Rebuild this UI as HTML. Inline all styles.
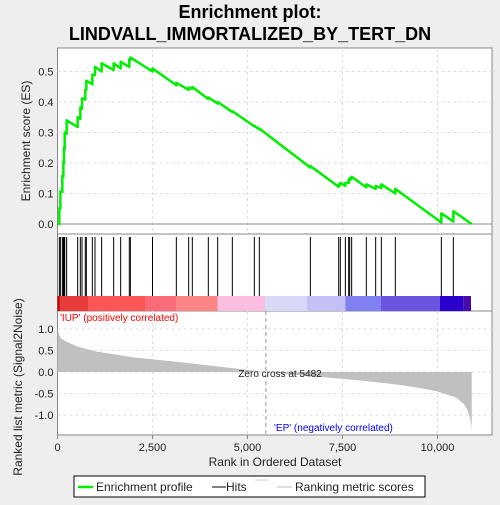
<!DOCTYPE html>
<html><head><meta charset="utf-8"><style>
body{margin:0;background:#eeeeee;width:500px;height:500px;overflow:hidden;font-family:"Liberation Sans",sans-serif}
</style></head><body>
<svg id="c" width="500" height="500" xmlns="http://www.w3.org/2000/svg" font-family="Liberation Sans, sans-serif"></svg>
<script>
const hitRanks=[48,75,127,154,170,190,241,531,601,645,732,759,917,987,1162,1478,1662,1890,1917,2500,3127,3452,3548,3969,4215,4601,5180,5311,6654,7399,7443,7575,7662,7689,7741,8127,8373,8522,8890,10101,10417];
const esBefore=[0,0.05,0.105,0.155,0.2,0.245,0.295,0.318,0.345,0.378,0.408,0.44,0.458,0.488,0.5,0.505,0.51,0.515,0.538,0.5,0.455,0.44,0.443,0.41,0.395,0.367,0.32,0.31,0.185,0.122,0.128,0.125,0.135,0.142,0.148,0.12,0.115,0.118,0.1,0.005,0.008];
const esAfter=[0.052,0.107,0.158,0.205,0.25,0.3,0.34,0.35,0.382,0.412,0.44,0.47,0.49,0.515,0.527,0.527,0.532,0.54,0.546,0.51,0.463,0.447,0.449,0.415,0.4,0.37,0.322,0.313,0.19,0.13,0.135,0.135,0.145,0.15,0.155,0.13,0.125,0.13,0.115,0.035,0.042];
const totalRanks=10900;
const metricRanks=[0,20,50,100,200,500,1000,2000,3000,4000,5000,5482,6000,7000,8000,9000,9500,10000,10500,10700,10800,10860,10890,10900];
const metricVals=[1.05,0.95,0.85,0.78,0.72,0.6,0.48,0.34,0.25,0.15,0.05,0,-0.05,-0.12,-0.2,-0.3,-0.37,-0.45,-0.6,-0.75,-0.9,-1.1,-1.25,-1.37];
const esTicks=[0,0.1,0.2,0.3,0.4,0.5];
const metricTicks=[1.0,0.5,0.0,-0.5,-1.0];
const xTicks=[0,2500,5000,7500,10000];
const xTickLabels=["0","2,500","5,000","7,500","10,000"];

const NS="http://www.w3.org/2000/svg";const svg=document.getElementById('c');
function el(t,a,p){const e=document.createElementNS(NS,t);for(const k in a)e.setAttribute(k,a[k]);(p||svg).appendChild(e);return e;}
const L=57.5,R=492;
const xs=r=>L+r*0.038;
const yES=v=>224-v*305;
const yM=v=>372-v*43;

let t=el('text',{x:250,y:18,'text-anchor':'middle','font-size':'18','font-weight':'bold',fill:'#000'});t.textContent='Enrichment plot:';

t=el('text',{x:250,y:40,'text-anchor':'middle','font-size':'18','font-weight':'bold',fill:'#000'});t.textContent='LINDVALL_IMMORTALIZED_BY_TERT_DN';


let p=el('rect',{x:L,y:48,width:R-L,height:186,fill:'#fff',stroke:'#888'});
p=el('rect',{x:L,y:234,width:R-L,height:77,fill:'#fff',stroke:'#888'});
p=el('rect',{x:L,y:311,width:R-L,height:124,fill:'#fff',stroke:'#888'});

xTicks.forEach(v=>{if(v>0){el('line',{x1:xs(v),x2:xs(v),y1:48,y2:234,stroke:'#ddd','stroke-dasharray':'3,3'});el('line',{x1:xs(v),x2:xs(v),y1:311,y2:435,stroke:'#ddd','stroke-dasharray':'3,3'});}});
esTicks.forEach(v=>{el('line',{x1:L,x2:R,y1:yES(v),y2:yES(v),stroke:v==0?'#888':'#ddd','stroke-dasharray':v==0?'':'3,3'});
 const tt=el('text',{x:L-4,y:yES(v)+4,'text-anchor':'end','font-size':'11',fill:'#222'});tt.textContent=v.toFixed(1);
 });
metricTicks.forEach(v=>{el('line',{x1:L,x2:R,y1:yM(v),y2:yM(v),stroke:'#ddd','stroke-dasharray':'3,3'});
 const tt=el('text',{x:L-4,y:yM(v)+4,'text-anchor':'end','font-size':'11',fill:'#222'});tt.textContent=v.toFixed(1);
 });
xTicks.forEach((v,i)=>{el('line',{x1:xs(v),x2:xs(v),y1:435,y2:439,stroke:'#888'});
 const tt=el('text',{x:xs(v),y:451,'text-anchor':'middle','font-size':'11',fill:'#222'});tt.textContent=xTickLabels[i];
 });

let d='M'+xs(0)+','+yES(0);
hitRanks.forEach((r,i)=>{d+=' L'+xs(r)+','+yES(esBefore[i])+' L'+xs(r)+','+yES(esAfter[i]);});
d+=' L'+xs(totalRanks)+','+yES(0);
const es=el('path',{d:d,fill:'none',stroke:'#00ee00','stroke-width':2.5,'stroke-linejoin':'round'});


hitRanks.forEach(r=>{const h=el('line',{x1:xs(r),x2:xs(r),y1:237,y2:296,stroke:'#000','stroke-width':1});
 });

const segs=[[57.5,59.5,'#c00000'],[59.5,88,'#e83c3c'],[88,145,'#fb5555'],[145,176.7,'#fa6a78'],[176.7,217.7,'#fb8484'],[217.7,265,'#fbbde0'],[265,306.7,'#d8d8f8'],[306.7,345.3,'#c4c0f5'],[345.3,381,'#8080f0'],[381,440,'#6a55e0'],[440,463.3,'#2a00cc'],[463.3,471,'#4a0aa8']];
segs.forEach(s=>{const r=el('rect',{x:s[0],y:296,width:s[1]-s[0],height:15,fill:s[2]});
 });

let m='M'+xs(0)+','+yM(0);
metricRanks.forEach((r,i)=>{m+=' L'+xs(r)+','+yM(metricVals[i]);});
m+=' L'+xs(totalRanks)+','+yM(0)+' Z';
const ma=el('path',{d:m,fill:'#c0c0c0',stroke:'none'});
el('line',{x1:xs(5482),x2:xs(5482),y1:311,y2:435,stroke:'#999','stroke-dasharray':'4,3'});
t=el('text',{x:280,y:377,'text-anchor':'middle','font-size':'10',fill:'#222'});t.textContent='Zero cross at 5482';
t=el('text',{x:60,y:321,'font-size':'10',fill:'#ff0000'});t.textContent="'IUP' (positively correlated)";
t=el('text',{x:274,y:431,'font-size':'10',fill:'#0000ff'});t.textContent="'EP' (negatively correlated)";

t=el('text',{x:275,y:466,'text-anchor':'middle','font-size':'12',fill:'#222'});t.textContent='Rank in Ordered Dataset';
t=el('text',{x:0,y:0,'text-anchor':'middle','font-size':'12',fill:'#222',transform:'translate(30,141) rotate(-90)'});t.textContent='Enrichment score (ES)';
t=el('text',{x:0,y:0,'text-anchor':'middle','font-size':'12',fill:'#222',transform:'translate(22,387) rotate(-90)'});t.textContent='Ranked list metric (Signal2Noise)';

const g=el('g',{});
el('rect',{x:74,y:476,width:351,height:21,fill:'#fff',stroke:'#000'},g);
el('line',{x1:78,x2:93,y1:487,y2:487,stroke:'#00ee00','stroke-width':2.5},g);
t=el('text',{x:96,y:491,'font-size':'12',fill:'#222'},g);t.textContent='Enrichment profile';
el('line',{x1:212,x2:226,y1:487,y2:487,stroke:'#000'},g);
t=el('text',{x:226,y:491,'font-size':'12',fill:'#222'},g);t.textContent='Hits';
el('line',{x1:255,x2:268,y1:480,y2:480,stroke:'#ccc'},g);
el('line',{x1:277,x2:292,y1:487,y2:487,stroke:'#bbb'},g);
t=el('text',{x:295,y:491,'font-size':'12',fill:'#222'},g);t.textContent='Ranking metric scores';
</script>
</body></html>
